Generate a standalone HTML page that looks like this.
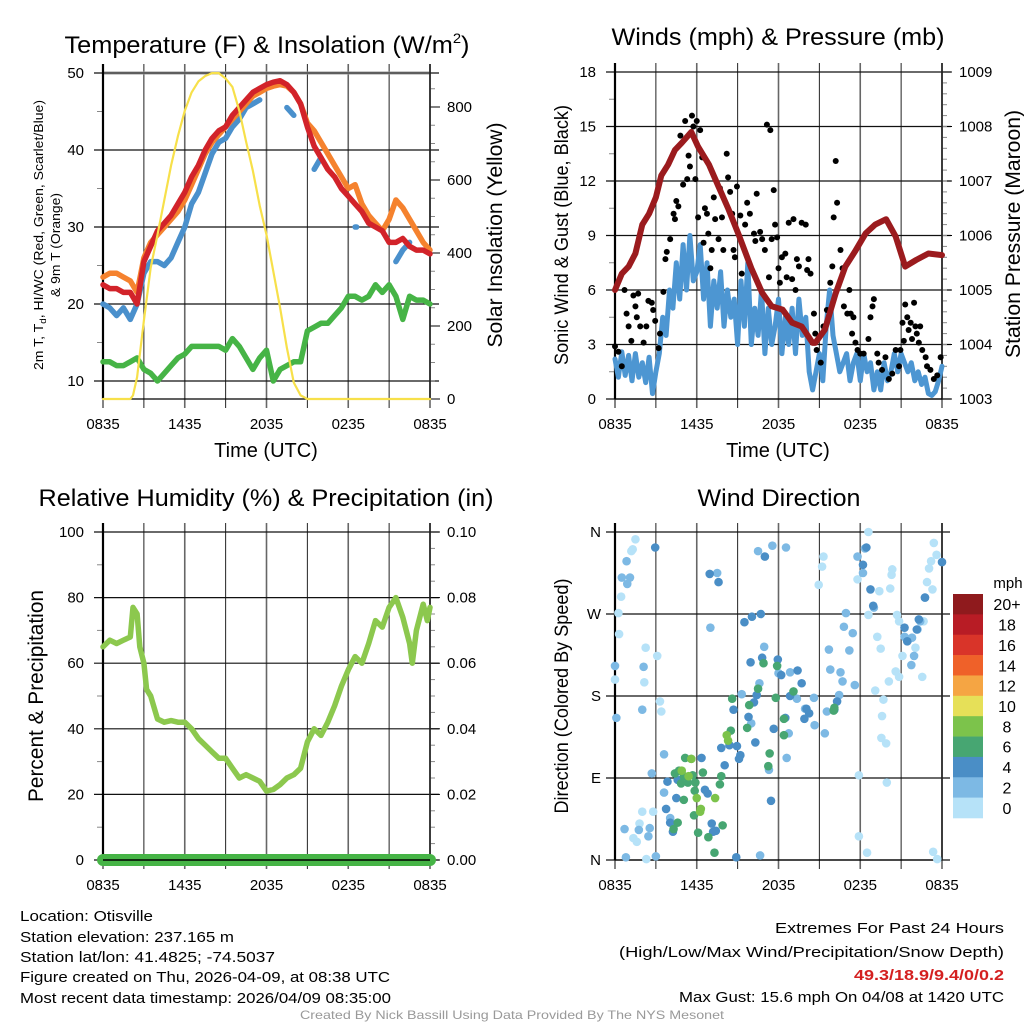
<!DOCTYPE html>
<html><head><meta charset="utf-8"><style>
html,body{margin:0;padding:0;background:#fff}
svg{display:block;font-family:"Liberation Sans",sans-serif}
</style></head><body>
<svg id="chart" xmlns="http://www.w3.org/2000/svg" width="1024" height="1024" viewBox="0 0 1024 1024">
<rect width="1024" height="1024" fill="#fff"/>
<g id="layer"></g>
<text x="267" y="53" font-size="24" text-anchor="middle" textLength="405" lengthAdjust="spacingAndGlyphs">Temperature (F) &amp; Insolation (W/m<tspan font-size="14" dy="-10">2</tspan><tspan dy="10">)</tspan></text>
<text x="778" y="45" font-size="24" text-anchor="middle" textLength="333" lengthAdjust="spacingAndGlyphs">Winds (mph) &amp; Pressure (mb)</text>
<text x="266" y="506" font-size="24" text-anchor="middle" textLength="455" lengthAdjust="spacingAndGlyphs">Relative Humidity (%) &amp; Precipitation (in)</text>
<text x="779" y="506" font-size="24" text-anchor="middle" textLength="163" lengthAdjust="spacingAndGlyphs">Wind Direction</text>
<text x="266" y="457" font-size="20" text-anchor="middle">Time (UTC)</text>
<text x="778" y="457" font-size="20" text-anchor="middle">Time (UTC)</text>
<text transform="translate(43,235) rotate(-90)" font-size="13" text-anchor="middle" textLength="270" lengthAdjust="spacingAndGlyphs">2m T, T<tspan font-size="9" dy="3">d</tspan><tspan dy="-3">, HI/WC (Red, Green, Scarlet/Blue)</tspan></text>
<text transform="translate(60,245) rotate(-90)" font-size="13" text-anchor="middle" textLength="104" lengthAdjust="spacingAndGlyphs">&amp; 9m T (Orange)</text>
<text transform="translate(502,235) rotate(-90)" font-size="21" text-anchor="middle" textLength="225" lengthAdjust="spacingAndGlyphs">Solar Insolation (Yellow)</text>
<text transform="translate(568,235) rotate(-90)" font-size="19" text-anchor="middle" textLength="260" lengthAdjust="spacingAndGlyphs">Sonic Wind &amp; Gust (Blue, Black)</text>
<text transform="translate(1020,234) rotate(-90)" font-size="21" text-anchor="middle" textLength="248" lengthAdjust="spacingAndGlyphs">Station Pressure (Maroon)</text>
<text transform="translate(43,696) rotate(-90)" font-size="21" text-anchor="middle" textLength="212" lengthAdjust="spacingAndGlyphs">Percent &amp; Precipitation</text>
<text transform="translate(568,696) rotate(-90)" font-size="19" text-anchor="middle" textLength="235" lengthAdjust="spacingAndGlyphs">Direction (Colored By Speed)</text>
<text x="1008" y="588" font-size="15" text-anchor="middle">mph</text>
<g font-size="15">
<text x="20" y="921" textLength="133" lengthAdjust="spacingAndGlyphs">Location: Otisville</text>
<text x="20" y="942" textLength="214" lengthAdjust="spacingAndGlyphs">Station elevation: 237.165 m</text>
<text x="20" y="962" textLength="255" lengthAdjust="spacingAndGlyphs">Station lat/lon: 41.4825; -74.5037</text>
<text x="20" y="982" textLength="370" lengthAdjust="spacingAndGlyphs">Figure created on Thu, 2026-04-09, at 08:38 UTC</text>
<text x="20" y="1003" textLength="371" lengthAdjust="spacingAndGlyphs">Most recent data timestamp: 2026/04/09 08:35:00</text>
</g>
<g font-size="15" text-anchor="end">
<text x="1004" y="933" textLength="229" lengthAdjust="spacingAndGlyphs">Extremes For Past 24 Hours</text>
<text x="1004" y="957" textLength="385" lengthAdjust="spacingAndGlyphs">(High/Low/Max Wind/Precipitation/Snow Depth)</text>
<text x="1004" y="980" fill="#d42020" font-weight="bold" textLength="150" lengthAdjust="spacingAndGlyphs">49.3/18.9/9.4/0/0.2</text>
<text x="1004" y="1002" textLength="325" lengthAdjust="spacingAndGlyphs">Max Gust: 15.6 mph On 04/08 at 1420 UTC</text>
</g>
<text x="512" y="1019" font-size="12" fill="#999" text-anchor="middle" textLength="424" lengthAdjust="spacingAndGlyphs">Created By Nick Bassill Using Data Provided By The NYS Mesonet</text>
</svg>
<script>
// ---------- data ----------
const xTickLabels = ["0835","1435","2035","0235","0835"];
const tempTicks = [10,20,30,40,50];
const solarTicks = [0,200,400,600,800];
const windTicks = [0,3,6,9,12,15,18];
const presTicks = [1003,1004,1005,1006,1007,1008,1009];
const rhTicks = [0,20,40,60,80,100];
const precipTicks = ["0.00","0.02","0.04","0.06","0.08","0.10"];
const dirTicks = ["N","E","S","W","N"];
const cbLabels = ["20+","18","16","14","12","10","8","6","4","2","0"];

const tempTimes = [0,0.5,1,1.5,2,2.5,3,3.5,4,4.5,5,5.5,6,6.5,7,7.5,8,8.5,9,9.5,10,10.5,11,11.5,12,12.5,13,13.5,14,14.5,15,15.5,16,16.5,17,17.5,18,18.5,19,19.5,20,20.5,21,21.5,22,22.5,23,23.5,24];
const redTemp = [22.5,22,22,21.5,21.5,20,25.5,27.5,29.5,30.5,31.5,33,34.5,36.5,38,40,41.5,42.5,43,44.5,45.5,46.5,47.5,48,48.5,48.8,49,48.5,47.5,46,43,40.5,39,37.5,36.5,35,34,33,32,30.5,30,29.5,28,28,28.5,27.5,27,27,26.5];
const orangeTemp = [23.5,24,24,23.5,23,21.5,26,28,29,30,31,32,33.5,35.5,37.5,39.5,41,42,43,44,45,46,47,47.5,48,48.3,48.5,48.3,47.5,46,43.5,42.5,41,39.5,38,36.5,35,35.5,33,31.5,30.5,29.5,31,33.5,32.5,31,29.5,28,27];
const blueTemp = [20,19.5,18.5,19.5,18,20,24,25.5,25.5,25,26,28,30,33,34.5,37,39.5,41,41.5,43,44,45.5,46,46.5,null,null,null,45.5,44.5,null,null,37.5,39,null,null,null,null,30,null,null,null,null,null,25.5,27,28,null,null,null];
const greenDew = [12.5,12.5,12,12,12.5,13,11.5,11,10,11,12,13,13.5,14.5,14.5,14.5,14.5,14.5,14,15.5,14.5,13,11.5,13,14,10,11.5,12,12.5,12.5,16.5,17,17.5,17.5,18.5,19.5,21,21,20.5,21,22.5,21.5,22.5,21,18,21,20.5,20.5,20];
const solarTimes = [0,2,2.2,2.5,3,3.5,4,4.5,5,5.5,6,6.5,7,7.5,8,8.5,9,9.5,10,10.5,11,11.5,12,12.5,13,13.5,14,14.5,15,24];
const solarVals = [0,0,10,60,215,360,450,545,640,720,790,840,870,885,893,893,878,855,790,705,625,530,450,350,250,140,45,10,0,0];

const presTimes = [0,0.5,1,1.5,2,2.5,3,3.4,3.9,4.4,4.9,5.6,6.1,6.9,7.6,8.3,9.1,10,10.8,11.5,12.3,13,13.7,14.5,14.7,15.4,16.2,16.9,17.6,18.4,19.1,19.9,20.6,21.3,22.1,23,24];
const presVals = [1005,1005.3,1005.43,1005.67,1006.2,1006.4,1006.7,1007.1,1007.3,1007.57,1007.7,1007.9,1007.63,1007.3,1006.9,1006.5,1006.0,1005.4,1004.95,1004.7,1004.64,1004.4,1004.33,1004.03,1004.03,1004.27,1004.94,1005.43,1005.7,1006.04,1006.2,1006.3,1005.98,1005.43,1005.55,1005.67,1005.64];
const windStep = 0.25;
const windVals = [2.2,1.2,2.6,1.3,2.4,1.0,2.5,1.2,2.0,0.9,2.3,0.3,1.5,2.5,4.5,3.5,6.0,5.0,7.5,5.5,8.5,6.0,9.0,6.5,7.0,8.5,5.5,7.5,4.0,6.5,5.0,7.0,4.0,6.0,4.5,5.5,3.0,6.5,4.0,7.5,3.0,5.0,3.5,6.0,2.5,5.0,3.0,4.0,5.5,2.5,4.5,3.0,5.0,2.5,5.5,3.5,4.5,1.5,0.5,1.5,2.5,1.0,4.0,6.0,3.5,2.5,1.5,2.0,2.5,1.0,2.0,2.5,1.0,2.5,1.5,2.0,0.5,1.5,0.5,2.0,1.0,1.5,2.5,1.5,2.5,2.0,1.5,2.0,1.0,1.5,0.8,1.2,0.3,0.2,0.4,1.0,1.8];
const gustTimes = [0,0.25,0.5,0.7,0.85,1,1.2,1.35,1.5,1.6,1.7,1.85,2.1,2.3,2.45,2.7,2.8,2.95,3.2,3.3,3.55,3.7,3.8,4.05,4.3,4.4,4.5,4.65,4.8,5,5.15,5.3,5.4,5.5,5.65,5.75,5.9,6,6.1,6.25,6.4,6.5,6.6,6.75,6.85,7,7.1,7.25,7.35,7.6,7.7,7.85,7.95,8.2,8.3,8.45,8.6,8.7,8.8,8.95,9.2,9.3,9.55,9.7,9.9,10.2,10.3,10.4,10.65,10.8,11,11.15,11.3,11.4,11.5,11.65,11.75,11.9,12,12.1,12.25,12.5,12.6,12.75,13,13.1,13.25,13.35,13.5,13.7,14,14.1,14.2,14.35,14.6,14.7,14.8,15.1,15.3,15.55,15.8,15.95,16.05,16.2,16.3,16.55,16.7,16.8,17.05,17.2,17.3,17.4,17.5,17.65,17.8,18,18.25,18.6,18.75,18.9,19,19.25,19.35,19.6,19.85,20.1,20.35,20.6,20.85,20.95,21.1,21.2,21.3,21.45,21.55,21.7,21.8,21.95,22.05,22.15,22.3,22.4,22.55,22.8,22.9,23.15,23.4,23.65,23.9];
const gustVals = [2.9,2.6,1.8,6.0,4.7,4,3.2,5.7,5.1,4.5,5.8,4,3.1,4,5.4,5.3,4.9,4.3,2.8,3.6,5.9,7.7,8.1,8.8,10.2,9.9,10.9,10.6,14.5,11.8,15.3,12.1,13.4,12.8,15.6,15,12.1,15.3,10,14.8,13.3,8.6,10.5,10.2,9.1,7.2,8.2,11.1,9.9,8.8,11.6,10,8.2,13.5,12.2,11.4,10.2,8.2,7.8,11.7,10.1,6.9,9.6,10.8,10.2,9.1,8.7,11.3,9.2,8.8,8.2,15.1,6.7,14.8,8.8,11.5,9.6,8.9,7.2,6.4,7.8,8,6.7,9.7,6.6,9.9,6,7.7,7.3,9.7,9.6,7.1,7.7,6.9,4.7,3.6,2.7,2,4,4.9,6.4,7.3,10,13.1,10.8,8.2,7.2,5.1,4.7,6,4.7,3.6,4.5,3.1,2.7,2.5,2.5,3.3,4.5,5.1,5.5,2.5,2,1.6,2.3,1.1,1.4,2.7,1.8,2.7,4.2,3.2,5.2,4.5,3.8,4.2,3.3,5.3,4,3.6,3.1,4,2.7,2.3,1.8,1.6,1.1,1.3,2.3];

const rhTimes = [0,0.5,1,1.5,2,2.2,2.5,2.7,3,3.2,3.5,4,4.5,5,5.5,6,6.5,7,7.5,8,8.5,9,9.5,10,10.5,11,11.5,12,12.5,13,13.5,14,14.5,15,15.5,16,16.5,17,17.5,18,18.5,19,19.5,20,20.5,21,21.5,22,22.5,22.7,23,23.5,23.8,24];
const rhVals = [65,67,66,67,68,77,75,65,60,52,50,43,42,42.5,42,42,40,37,35,33,31,31,28,25,26,25,24,21,21.5,23,25,26,28,36,40,38,42,47,53,58,62,60,66,73,71,77,80,74,66,60,70,78,73,77];
const precipTimes = [0,24];
const precipVals = [0,0];

const dirTimes = [1.5,1.2,1.3,0.45,0.25,0.3,2.25,3.1,2.15,0,3.3,3.4,2,2.8,1.8,1.35,1.6,2.3,18.6,15.3,15.2,14.95,17.8,17.9,17.9,18.5,18.6,19.25,19.5,19.4,19.1,19.7,19.6,19.55,19.9,19.95,20.35,20.2,20.1,20.6,20.85,20.7,20.85,21.1,22.05,22.55,22.65,22.9,23.05,23.2,23.4,23.6,23.3,23.35,23.65,20.3,
0.85,0.5,1.1,0.9,2.1,0,0.1,2,3.6,2.7,3.6,4.05,2.55,0.7,1.75,2.45,0.8,3,7,7.5,10.5,11.55,12.55,9.3,10,10.95,10.6,12,12.85,13.35,13.95,14.65,15.4,14.6,12.75,12.6,11.3,10.65,15.7,15.8,16.55,16.7,16.45,15.55,16.8,16.95,17.2,17.45,17.6,17.8,18.35,18.2,19,21.8,22.2,22.4,22.75,21.95,21.75,21.55,21.25,
2.95,6.95,7.6,11,9.5,10.05,10.7,9.95,10.8,11.95,12.2,13.4,13.7,12.85,14.05,13.9,14.25,16.3,16.1,10.2,10.4,8.7,9.8,11.65,12.5,10.3,8.95,8.4,7.8,9.2,9.1,8.05,6.35,3.85,4.6,6.6,6.8,4.5,3.75,4.05,4.25,7.1,7.2,7.4,8.9,11.45,21.25,21.45,22.3,22.15,22.75,24,18.45,18.2,18.75,18.95,
5.15,5.6,4.4,4.7,5.05,5.7,6.45,4.85,5.35,5.9,5.85,5.05,5.8,4.6,4.3,6.1,6.85,7.3,7.9,7.7,7.8,8.5,9.85,9.7,8.6,10.5,10.9,11.9,11.8,12.4,12.4,11.35,11.25,13.1,16.05,16.1,
5.6,4.9,5.4,6,6.3,6.25,7.35,8.2,8.3];
const dirVals = [352,339,341,289,271,248,233,224,195,198,174,163,53,53,40,24,20,1,360,333,322,302,308,26,93,8,269,245,232,295,186,176,158,134,128,85,319,298,196,207,201,269,262,224,233,201,262,305,320,328,348,335,297,9,1,313,
328,310,310,303,212,213,156,165,116,95,74,46,35,34,33,26,3,4,255,315,339,345,343,182,150,234,194,205,206,177,166,148,139,178,139,112,99,5,231,209,206,196,181,163,256,271,230,249,192,333,342,315,277,244,253,262,288,224,214,242,245,
343,314,305,333,261,267,270,217,222,220,203,208,194,180,166,155,161,174,165,173,181,165,157,144,156,129,125,126,123,115,111,104,112,86,88,77,73,68,56,41,31,40,31,32,3,65,255,240,264,253,288,327,343,324,297,279,
112,111,95,98,92,93,96,84,85,85,76,66,49,41,34,30,25,8,38,83,92,142,170,145,177,188,216,213,178,155,137,117,103,185,164,167,
111,98,92,68,56,53,68,137,131];
const dirSpeeds = [1,1,1,1,1,1,1,1,1,1,1,1,1,1,1,1,1,1,1,1,1,1,1,1,1,1,1,1,1,1,1,1,1,1,1,1,1,1,1,1,1,1,1,1,1,1,1,1,1,1,1,1,1,1,1,1,
3,3,3,3,3,3,3,3,3,3,3,3,3,3,3,3,3,3,3,3,3,3,3,3,3,3,3,3,3,3,3,3,3,3,3,3,3,3,3,3,3,3,3,3,3,3,3,3,3,3,3,3,3,3,3,3,3,3,3,3,3,
5,5,5,5,5,5,5,5,5,5,5,5,5,5,5,5,5,5,5,5,5,5,5,5,5,5,5,5,5,5,5,5,5,5,5,5,5,5,5,5,5,5,5,5,5,5,5,5,5,5,5,5,5,5,5,5,
7,7,7,7,7,7,7,7,7,7,7,7,7,7,7,7,7,7,7,7,7,7,7,7,7,7,7,7,7,7,7,7,7,7,7,7,
9,9,9,9,9,9,9,9,9];

// ---------- helpers ----------
const NS="http://www.w3.org/2000/svg";
const layer=document.getElementById('layer');
function el(tag,attrs,parent){const e=document.createElementNS(NS,tag);for(const k in attrs)e.setAttribute(k,attrs[k]);(parent||layer).appendChild(e);return e;}
const cbColors=["#8f1a1d","#b81c25","#d93429","#ef6129","#f5a543","#e6e058","#7cc34b","#47a672","#4a8ec6","#7db9e4","#b6e2f8"];
function speedColor(s){const i=Math.min(10,Math.floor(s/2));return cbColors[10-i];}

const P1={x0:103,x1:430,y0:73,y1:399};
const P2={x0:615,x1:942,y0:72,y1:399};
const P3={x0:103,x1:430,y0:532,y1:860};
const P4={x0:615,x1:942,y0:532,y1:860};
function tx(P,t){return P.x0+t*(P.x1-P.x0)/24;}
const yTemp=v=>381-(v-10)*7.7;
const ySolar=w=>399-w*0.365;
const yWind=v=>399-v*(327/18);
const yPres=p=>399-(p-1003)*(327/6);
const yRH=v=>860-v*3.28;
const yPrecip=v=>860-v*3280;
const yDir=d=>860-d*(328/360);

function frame(P,name){
  const g=el('g',{});
  
  
  for(let k=0;k<=8;k++){
    const x=tx(P,k*3);
    const ln=el('line',{x1:x,x2:x,y1:P.y0-9,y2:P.y1+9,stroke:(k%2?'#222':'#666'),'stroke-width':(k%2?1:1.6)},g);
    
    
  }
  for(let k=0;k<5;k++){
    const t=el('text',{x:tx(P,k*6),y:P.y1+30,'font-size':15,'text-anchor':'middle'},g);
    t.textContent=xTickLabels[k];
    
    
  }
  return g;
}
function hgrid(g,P,y,name,right){
  const ln=el('line',{x1:P.x0-9,x2:P.x1+(right||9),y1:y,y2:y,stroke:'#111','stroke-width':1.2},g);
  
  
}
function leftLabel(g,P,y,txt,name,dx){
  const t=el('text',{x:P.x0-(dx||19),y:y+5,'font-size':15,'text-anchor':'end'},g);
  t.textContent=txt;
  
  
}
function rightLabel(g,P,y,txt,name){
  const t=el('text',{x:P.x1+17,y:y+5,'font-size':15},g);
  t.textContent=txt;
  
  
}
function minor(g,x,y,len){el('line',{x1:x,x2:x+len,y1:y,y2:y,stroke:'#888','stroke-width':1},g);}
function borders(g,P){
  el('line',{x1:P.x0,x2:P.x0,y1:P.y0-9,y2:P.y1,stroke:'#000','stroke-width':2.2},g);
  el('line',{x1:P.x1,x2:P.x1,y1:P.y0-9,y2:P.y1,stroke:'#222','stroke-width':1.6},g);
  el('line',{x1:P.x0,x2:P.x1,y1:P.y1,y2:P.y1,stroke:'#000','stroke-width':1.2},g);
}
function pathFrom(P,times,vals,yf){
  let d='',pen=false;
  for(let i=0;i<vals.length;i++){
    if(vals[i]===null){pen=false;continue;}
    const x=tx(P,times[i]).toFixed(1),y=yf(vals[i]).toFixed(1);
    d+=(pen?'L':'M')+x+' '+y+' ';
    if(!pen && (i+1>=vals.length||vals[i+1]===null)) d+='L'+(+x+1.5)+' '+y+' ';
    pen=true;
  }
  return d;
}
function line(P,times,vals,yf,color,w,name){
  const p=el('path',{d:pathFrom(P,times,vals,yf),fill:'none',stroke:color,'stroke-width':w,'stroke-linejoin':'round','stroke-linecap':'round'});
  
  
  return p;
}

// ---------- Panel 1: temperature ----------
let g=frame(P1,'temp');
tempTicks.forEach(v=>{hgrid(g,P1,yTemp(v),'temp');leftLabel(g,P1,yTemp(v),String(v),'temp');});
[15,25,35,45].forEach(v=>minor(g,P1.x0-6,yTemp(v),6));
solarTicks.forEach(w=>{el('line',{x1:P1.x1,x2:P1.x1+10,y1:ySolar(w),y2:ySolar(w),stroke:'#000'},g);rightLabel(g,P1,ySolar(w),String(w),'solar');});
[50,100,150,250,300,350,450,500,550,650,700,750,850].forEach(w=>minor(g,P1.x1,ySolar(w),5));
el('line',{x1:P1.x0,x2:P1.x1,y1:P1.y0,y2:P1.y0,stroke:'#999','stroke-width':3},g);
el('line',{x1:P1.x0,x2:P1.x1,y1:P1.y0,y2:P1.y0,stroke:'#222','stroke-width':1},g);
borders(g,P1);
line(P1,tempTimes,greenDew,yTemp,'#46b446',5.5,'dewpoint-line');
line(P1,tempTimes,blueTemp,yTemp,'#4a90cc',5.5,'windchill-line');
line(P1,tempTimes,orangeTemp,yTemp,'#f5822e',5.5,'temp-9m-line');
line(P1,tempTimes,redTemp,yTemp,'#d2232a',5.5,'temp-2m-line');
line(P1,solarTimes,solarVals,ySolar,'#f7e04a',2.2,'solar-line');

// ---------- Panel 2: winds ----------
g=frame(P2,'wind');
windTicks.forEach(v=>{hgrid(g,P2,yWind(v),'wind');leftLabel(g,P2,yWind(v),String(v),'wind');});
[1.5,4.5,7.5,10.5,13.5,16.5].forEach(v=>minor(g,P2.x0-6,yWind(v),6));
presTicks.forEach(p=>{el('line',{x1:P2.x1,x2:P2.x1+10,y1:yPres(p),y2:yPres(p),stroke:'#000'},g);rightLabel(g,P2,yPres(p),String(p),'pressure');});
for(let p=1003.2;p<1009;p+=0.2){minor(g,P2.x1,yPres(p),5);}
borders(g,P2);
const windTimes=windVals.map((v,i)=>i*windStep);
line(P2,windTimes,windVals,yWind,'#4d96d2',5,'wind-speed-line');
for(let i=0;i<gustVals.length;i++){
  const c=el('circle',{cx:tx(P2,gustTimes[i]),cy:yWind(gustVals[i]),r:3,fill:'#000'});
  
  
}
line(P2,presTimes,presVals,yPres,'#9b1b1e',6,'pressure-line');

// ---------- Panel 3: RH ----------
g=frame(P3,'rh');
rhTicks.forEach((v,i)=>{hgrid(g,P3,yRH(v),'rh');leftLabel(g,P3,yRH(v),String(v),'rh');el('line',{x1:P3.x1,x2:P3.x1+10,y1:yRH(v),y2:yRH(v),stroke:'#000'},g);rightLabel(g,P3,yRH(v),precipTicks[i],'precip');});
[10,30,50,70,90].forEach(v=>minor(g,P3.x0-6,yRH(v),6));
for(let v=5;v<100;v+=5){if(v%20)minor(g,P3.x1,yRH(v),5);}
borders(g,P3);
line(P3,rhTimes,rhVals,yRH,'#8cc84e',5.5,'rh-line');
line(P3,precipTimes,precipVals,yPrecip,'#46b446',12,'precip-line');
el('line',{x1:P3.x0,x2:P3.x1,y1:P3.y1,y2:P3.y1,stroke:'#000','stroke-width':1.5});

// ---------- Panel 4: direction ----------
g=frame(P4,'direction');
dirTicks.forEach((lab,i)=>{const y=yDir(i*90);hgrid(g,P4,y,'direction',8);leftLabel(g,P4,y,lab,'direction',14);});
borders(g,P4);
for(let i=0;i<dirVals.length;i++){
  const c=el('circle',{cx:tx(P4,dirTimes[i]),cy:yDir(dirVals[i]),r:4.3,fill:speedColor(dirSpeeds[i])});
  
  
}
// colorbar
const cbTop=594,cbH=(818-594)/11;
for(let i=0;i<11;i++){
  const r=el('rect',{x:953,y:cbTop+i*cbH,width:30,height:cbH+0.3,fill:cbColors[i]});
  
  
  const t=el('text',{x:1007,y:cbTop+i*cbH+cbH/2+6,'font-size':16,'text-anchor':'middle'});
  t.textContent=cbLabels[i];
  
  
}
</script>
</body></html>
